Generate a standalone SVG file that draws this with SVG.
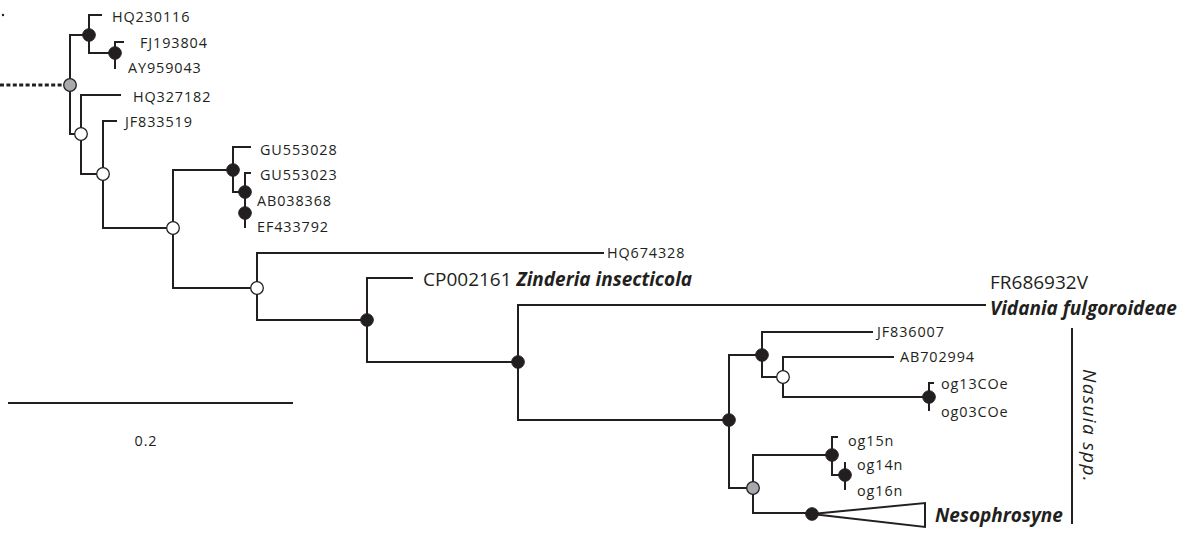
<svg xmlns="http://www.w3.org/2000/svg" width="1190" height="533" viewBox="0 0 1190 533">
<style>
.e{fill:none;stroke:#231f20;stroke-width:2;stroke-linecap:square}
.b{fill:#231f20;stroke:#231f20;stroke-width:1}
.w{fill:#fff;stroke:#231f20;stroke-width:1.3}
.g{fill:#a7a9ac;stroke:#231f20;stroke-width:1.3}
.t{font-family:"Open Sans","Noto Sans",sans-serif;font-size:14.4px;letter-spacing:0.9px;fill:#231f20}
.L{font-family:"Open Sans","Noto Sans",sans-serif;font-size:19px;fill:#231f20}
.bi{font-weight:bold;font-style:italic}
</style>
<rect width="1190" height="533" fill="#fff"/>
<g id="connectors">
<circle cx="3" cy="15" r="1.2" fill="#231f20"/>
<line x1="0" y1="85" x2="64" y2="85" stroke="#231f20" stroke-width="3" stroke-dasharray="4 2.4"/>
<path class="e" d="M70 35V134M70 35H89M89 15V53M89 15H101M89 53H115M115 42V68M115 42H123"/>
<path class="e" d="M70 134H81M81 95V174M81 95H120M81 174H103M103 121V228M103 121H116M103 228H173"/>
<path class="e" d="M173 170V288M173 170H233M233 147V192M233 147H250M233 192H245M245 173V227M245 173H250"/>
<path class="e" d="M173 288H257M257 253V320M257 253H603M257 320H367M367 278V362M367 278H412M367 362H518"/>
<path class="e" d="M518 305V420M518 305H985M518 420H729M729 355V488M729 355H762M762 332V377M762 332H872M762 377H783M783 357V397M783 357H893M783 397H929M929 383V410M929 383H933"/>
<path class="e" d="M729 488H753M753 455V513M753 455H832M832 437V475M832 437H837M832 475H845M845 463V489M753 513H812"/>
<path class="e" d="M812 514L925 503V527Z"/>
<line x1="8" y1="403" x2="293" y2="403" stroke="#231f20" stroke-width="2"/>
<line x1="1072" y1="328" x2="1072" y2="524" stroke="#231f20" stroke-width="2"/>
</g>
<g id="n-root"><circle class="g" cx="70" cy="85" r="6.3"/></g>
<g id="n-a"><circle class="b" cx="89" cy="35" r="6.3"/></g>
<g id="n-b"><circle class="b" cx="115" cy="53" r="6.3"/></g>
<g id="n-c"><circle class="w" cx="81" cy="134" r="6.3"/></g>
<g id="n-d"><circle class="w" cx="103" cy="174" r="6.3"/></g>
<g id="n-e"><circle class="w" cx="173" cy="228" r="6.3"/></g>
<g id="n-f"><circle class="b" cx="233" cy="170" r="6.3"/></g>
<g id="n-g"><circle class="b" cx="245" cy="192" r="6.3"/></g>
<g id="n-h"><circle class="b" cx="245" cy="213" r="6.3"/></g>
<g id="n-i"><circle class="w" cx="257" cy="288" r="6.3"/></g>
<g id="n-j"><circle class="b" cx="367" cy="320" r="6.3"/></g>
<g id="n-k"><circle class="b" cx="518" cy="362" r="6.3"/></g>
<g id="n-l"><circle class="b" cx="729" cy="420" r="6.3"/></g>
<g id="n-m"><circle class="b" cx="762" cy="355" r="6.3"/></g>
<g id="n-n"><circle class="w" cx="783" cy="377" r="6.3"/></g>
<g id="n-o"><circle class="b" cx="929" cy="397" r="6.3"/></g>
<g id="n-p"><circle class="g" cx="753" cy="488" r="6.3"/></g>
<g id="n-q"><circle class="b" cx="832" cy="455" r="6.3"/></g>
<g id="n-r"><circle class="b" cx="845" cy="475" r="6.3"/></g>
<g id="n-s"><circle class="b" cx="812" cy="514" r="6.3"/></g>
<g id="labels">
<text class="t" x="112" y="22">HQ230116</text>
<text class="t" x="140" y="48">FJ193804</text>
<text class="t" x="128" y="73">AY959043</text>
<text class="t" x="133" y="102">HQ327182</text>
<text class="t" x="125" y="127">JF833519</text>
<text class="t" x="260" y="155">GU553028</text>
<text class="t" x="260" y="180">GU553023</text>
<text class="t" x="257" y="206">AB038368</text>
<text class="t" x="257" y="232">EF433792</text>
<text class="t" x="607" y="258">HQ674328</text>
<text class="L" x="423" y="286">CP002161 <tspan class="bi">Zinderia insecticola</tspan></text>
<text class="L" x="990" y="289" font-size="18.5">FR686932V</text>
<text class="L bi" x="990" y="315">Vidania fulgoroideae</text>
<text class="t" x="877" y="337">JF836007</text>
<text class="t" x="900" y="362">AB702994</text>
<text class="t" x="941" y="389">og13COe</text>
<text class="t" x="941" y="417">og03COe</text>
<text class="t" x="848" y="446">og15n</text>
<text class="t" x="857" y="470">og14n</text>
<text class="t" x="857" y="496">og16n</text>
<text class="L bi" x="935" y="522">Nesophrosyne</text>
<text class="L" transform="translate(1083,369) rotate(90)" font-style="italic" font-size="22" letter-spacing="1.4">Nasuia spp.</text>
<text class="t" x="146" y="446" text-anchor="middle">0.2</text>
</g>
</svg>
